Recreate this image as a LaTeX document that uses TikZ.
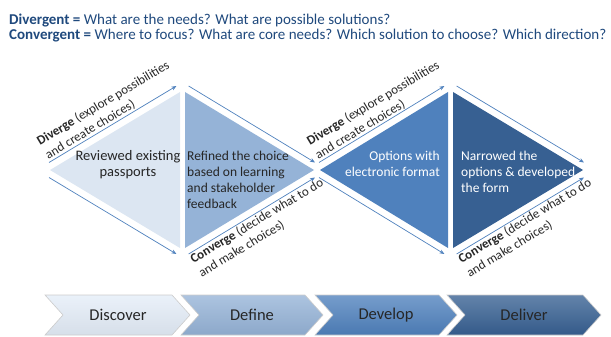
\documentclass[tikz,border=0pt]{standalone}
\usepackage{fontspec}
\setmainfont{Carlito}
\usepackage{tikz}
\usetikzlibrary{arrows.meta,positioning}

\definecolor{triA}{HTML}{DCE6F2}
\definecolor{triB}{HTML}{95B3D7}
\definecolor{triC}{HTML}{4F81BD}
\definecolor{triD}{HTML}{376092}
\definecolor{chevA}{HTML}{E4EDF8}
\definecolor{headblue}{HTML}{1F497D}
\definecolor{edgeblue}{HTML}{4F81BD}
\definecolor{darktext}{HTML}{262626}

\tikzset{
  edgearrow/.style={draw=edgeblue, line width=0.7pt, -{Stealth[length=5pt,width=4pt]}},
  phaselabel/.style={rotate=31, align=left, inner sep=1pt, text=darktext, font=\fontsize{13}{16}\selectfont},
  tritext/.style={inner sep=1pt, font=\fontsize{13.5}{16}\selectfont},
  chev/.style={draw=gray!40, line width=0.6pt, top color=#1!78!white, middle color=#1, bottom color=#1!94!black},
  chevtext/.style={text=darktext, font=\fontsize{16.5}{18}\selectfont},
  headline/.style={anchor=base west, inner sep=0pt, text=headblue, font=\fontsize{15}{15}\selectfont}
}

\begin{document}
\begin{tikzpicture}[x=1pt,y=1pt]
            \useasboundingbox (0,0) rectangle (611,-337);
            % header
            \node[headline] (divtext) at (9,-24.5) {\textbf{Divergent =} What are the needs? What are possible solutions?};
            \node[headline] (context) at (9,-39.5) {\textbf{Convergent =} Where to focus? What are core needs? Which solution to choose? Which direction?};
            % the four triangles
            \filldraw[fill=triA,draw=none] (50,-170) -- (180,-92) -- (180,-248) -- cycle;
            \filldraw[fill=triB,draw=none] (185,-92) -- (314,-170) -- (185,-248) -- cycle;
            \filldraw[fill=triC,draw=none] (320,-170) -- (448,-92) -- (448,-248) -- cycle;
            \filldraw[fill=triD,draw=none] (453,-92) -- (583,-170) -- (453,-248) -- cycle;
            % arrow ends along the edges
            \coordinate (a1) at (49,-162.5);   \coordinate (a2) at (176.4,-86);
            \coordinate (b1) at (49,-177.5);   \coordinate (b2) at (176.4,-254);
            \coordinate (c1) at (188.6,-86);   \coordinate (c2) at (315,-162.5);
            \coordinate (d1) at (188.6,-254);  \coordinate (d2) at (315,-177.5);
            \coordinate (e1) at (319,-162.5);  \coordinate (e2) at (444.4,-86);
            \coordinate (f1) at (319,-177.5);  \coordinate (f2) at (444.4,-254);
            \coordinate (g1) at (456.6,-86);   \coordinate (g2) at (584,-162.5);
            \coordinate (h1) at (456.6,-254);  \coordinate (h2) at (584,-177.5);
            \draw[edgearrow] (a1) -- (a2);
            \draw[edgearrow] (b1) -- (b2);
            \draw[edgearrow] (c1) -- (c2);
            \draw[edgearrow] (d1) -- (d2);
            \draw[edgearrow] (e1) -- (e2);
            \draw[edgearrow] (f1) -- (f2);
            \draw[edgearrow] (g1) -- (g2);
            \draw[edgearrow] (h1) -- (h2);
            % diverge / converge labels
            \node[phaselabel,anchor=south west] (div1) at (a1) {\textbf{Diverge} (explore possibilities\\and create choices)};
            \node[phaselabel,anchor=north west] (con1) at (187,-255) {\textbf{Converge} (decide what to do\\and make choices)};
            \node[phaselabel,anchor=south west] (div2) at (e1) {\textbf{Diverge} (explore possibilities\\and create choices)};
            \node[phaselabel,anchor=north west] (con2) at (455,-255) {\textbf{Converge} (decide what to do\\and make choices)};
            % text in the triangles
            \node[tritext,text=darktext,align=center,font=\fontsize{14.5}{16}\selectfont] (reviewed) at (128,-165) {Reviewed existing\\passports};
            \node[tritext,text=darktext,align=left,anchor=west] (refined) at (186,-180) {Refined the choice\\based on learning\\and stakeholder\\feedback};
            \node[tritext,text=white,align=right,anchor=east] (options) at (441,-164) {Options with\\electronic format};
            \node[tritext,text=white,align=left,anchor=west] (narrowed) at (460,-172) {Narrowed the\\options \& developed\\the form};
            % phase chevrons
            \path[chev=chevA] (45,-295) -- (172,-295) -- (190,-315) -- (172,-335) -- (45,-335) -- (63,-315) -- cycle;
            \path[chev=triB] (181,-295) -- (305,-295) -- (323,-315) -- (305,-335) -- (181,-335) -- (199,-315) -- cycle;
            \path[chev=triC] (315,-295) -- (439,-295) -- (457,-315) -- (439,-335) -- (315,-335) -- (333,-315) -- cycle;
            \path[chev=triD] (447,-295) -- (583,-295) -- (601,-315) -- (583,-335) -- (447,-335) -- (465,-315) -- cycle;
            \node[chevtext] (discover) at (118,-315) {Discover};
            \node[chevtext] (define) at (252,-315) {Define};
            \node[chevtext] (develop) at (386,-315) {Develop};
            \node[chevtext] (deliver) at (524,-315) {Deliver};
        \end{tikzpicture}
\end{document}
